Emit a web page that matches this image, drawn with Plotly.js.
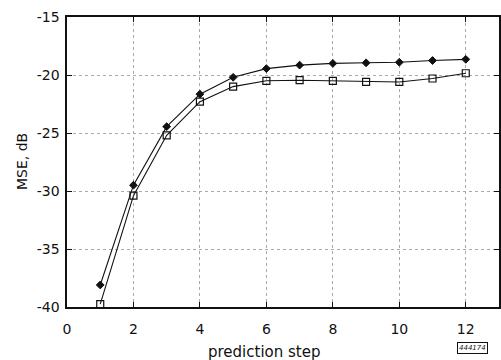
<!DOCTYPE html>
<html>
<head>
<meta charset="utf-8">
<script src="https://cdn.plot.ly/plotly-3.0.1.min.js"></script>
<style>html,body{margin:0;padding:0;background:#fff;}#chart{width:501px;height:360px;}</style>
</head>
<body>
<div id="chart"></div>
<script>
const steps = [1, 2, 3, 4, 5, 6, 7, 8, 9, 10, 11, 12];
const mseDiamond = [-38.1, -29.5, -24.45, -21.65, -20.2, -19.45, -19.15, -19.0, -18.95, -18.9, -18.75, -18.65];
const mseSquare = [-39.75, -30.4, -25.2, -22.3, -21.0, -20.5, -20.45, -20.5, -20.6, -20.6, -20.3, -19.85];
const xTicks = [0, 2, 4, 6, 8, 10, 12];
const yTicks = [-40, -35, -30, -25, -20, -15];
const xLabel = 'prediction step';
const yLabel = 'MSE, dB';
const figId = '444174';

const fontFam = 'DejaVu Sans, Liberation Sans, sans-serif';

const traces = [
  {
    x: steps, y: mseDiamond, type: 'scatter', mode: 'lines+markers',
    line: {color: '#111', width: 1.1},
    marker: {symbol: 'diamond', size: 6, color: '#111', line: {color: '#111', width: 1}},
    showlegend: false, hoverinfo: 'none'
  },
  {
    x: steps, y: mseSquare, type: 'scatter', mode: 'lines+markers',
    line: {color: '#111', width: 1.1},
    marker: {symbol: 'square-open', size: 7, color: '#111', line: {color: '#111', width: 1.2}},
    showlegend: false, hoverinfo: 'none'
  }
];

const layout = {
  width: 501, height: 360,
  margin: {l: 67, r: 2, t: 17, b: 53},
  paper_bgcolor: '#fff', plot_bgcolor: '#fff',
  font: {family: fontFam, color: '#111', size: 14},
  xaxis: {
    range: [0, 13], tickvals: xTicks, ticktext: xTicks.map(String),
    showgrid: true, gridcolor: '#aaa', griddash: 'dot', gridwidth: 1,
    zeroline: false, showline: true, linecolor: '#111', linewidth: 1.6, mirror: 'ticks',
    ticks: 'inside', ticklen: 5, tickcolor: '#111', ticklabelstandoff: 9,
    tickfont: {size: 14, family: fontFam}
  },
  yaxis: {
    range: [-40, -15], tickvals: yTicks, ticktext: yTicks.map(String),
    showgrid: true, gridcolor: '#aaa', griddash: 'dot', gridwidth: 1,
    zeroline: false, showline: true, linecolor: '#111', linewidth: 1.6, mirror: 'ticks',
    ticks: 'inside', ticklen: 5, tickcolor: '#111', ticklabelstandoff: 3,
    tickfont: {size: 14, family: fontFam}
  },
  annotations: [
    {text: xLabel, xref: 'paper', yref: 'paper', x: 0.456, y: 0, yshift: -45, xanchor: 'center', yanchor: 'middle',
     showarrow: false, font: {size: 15, family: fontFam}},
    {text: yLabel, xref: 'paper', yref: 'paper', x: 0, xshift: -45, y: 0.5, xanchor: 'center', yanchor: 'middle',
     textangle: -90, showarrow: false, font: {size: 14, family: fontFam}},
    {text: '<i>' + figId + '</i>', xref: 'paper', yref: 'paper', x: 0.938, y: 0, yshift: -41, xanchor: 'center', yanchor: 'middle',
     showarrow: false, font: {size: 7, family: fontFam}, bordercolor: '#111', borderwidth: 1, borderpad: 1}
  ]
};

Plotly.newPlot('chart', traces, layout, {staticPlot: true, displayModeBar: false});
</script>
</body>
</html>
